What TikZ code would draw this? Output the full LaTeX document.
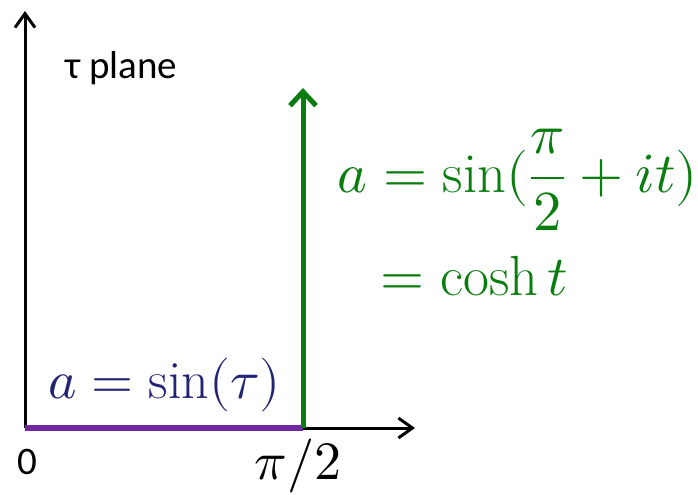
\documentclass[tikz,border=0pt]{standalone}
\usepackage{amsmath}
\usepackage{unicode-math}
\setmathfont{Latin Modern Math}
\usetikzlibrary{arrows.meta}
\newfontfamily\labelfont{Carlito}
\definecolor{tpurple}{RGB}{112,40,160}
\definecolor{tgreen}{RGB}{10,125,15}
\definecolor{tnavy}{RGB}{35,35,115}

\begin{document}
\begin{tikzpicture}[x=0.5pt,y=-0.5pt,
      axis/.style={line width=1.5pt,-{Straight Barb[length=7pt,width=10pt]}},
      mathlabel/.style={inner sep=0pt,font=\fontsize{27}{32}\selectfont},
      greenlabel/.style={mathlabel,tgreen,font=\fontsize{28.3}{34}\selectfont},
      sanslabel/.style={inner sep=0pt,font=\fontsize{19.5}{23}\selectfont\labelfont}]
    \useasboundingbox (0,0) rectangle (698,494);
    \coordinate (O) at (25,428);
    \coordinate (xend) at (415,428);
    \coordinate (yend) at (25,11);
    \coordinate (half) at (303,428);
    \coordinate (halftop) at (303,88);
    % axes
    \draw[axis] (O)--(xend);
    \draw[axis] (O)--(yend);
    % the two paths
    \draw[tpurple,line width=3pt] (O)--(half);
    \draw[tgreen,line width=2.5pt,-{Straight Barb[length=7pt,width=13pt]}] (half)--(halftop);
    % labels
    \node[sanslabel,anchor=west] (plane) at (65,68) {τ plane};
    \node[sanslabel,anchor=base] (zero) at (27,474) {0};
    \node[mathlabel,anchor=base] (halfpi) at (298,479) {$\pi/2$};
    \node[mathlabel,anchor=base west,tnavy] (real) at (48,398) {$a=\sin(\tau)$};
    \node[greenlabel,anchor=base west] (imag) at (337,192)
          {$a=\sin(\dfrac{\pi}{2}+it)$};
    \node[greenlabel,anchor=base west] (cosh) at (380,295) {$=\cosh t$};
\end{tikzpicture}
\end{document}
